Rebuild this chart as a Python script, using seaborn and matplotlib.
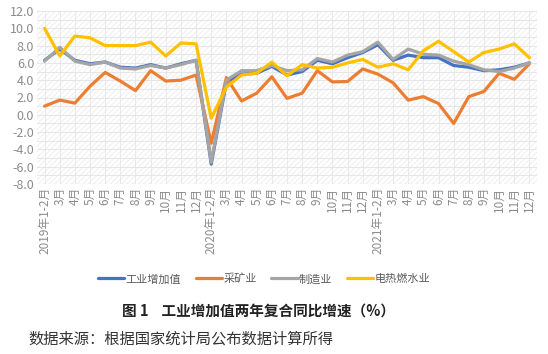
import matplotlib
matplotlib.use("Agg")
import matplotlib.pyplot as plt
from matplotlib.patches import Rectangle
import seaborn as sns
import pandas as pd

sns.set_theme(style="white")
plt.rcParams['font.family'] = ['Noto Sans CJK SC', 'DejaVu Sans']
plt.rcParams['hatch.linewidth'] = 0.6

months = ["1-2月", "3月", "4月", "5月", "6月", "7月", "8月", "9月", "10月", "11月", "12月"]
years = ["2019年", "2020年", "2021年"]
tick_labels = [(y + m) if m == "1-2月" else m for y in years for m in months]

industry = [6.3, 7.6, 6.3, 5.9, 6.1, 5.5, 5.4, 5.8, 5.4, 5.9, 6.3,
            -5.7, 3.8, 4.7, 4.8, 5.6, 4.6, 5.0, 6.3, 5.9, 6.6, 7.2,
            8.1, 6.3, 6.9, 6.6, 6.6, 5.7, 5.5, 5.1, 5.2, 5.5, 6.0]
mining = [1.0, 1.7, 1.35, 3.3, 4.9, 3.9, 2.8, 5.1, 3.9, 4.0, 4.6,
          -3.3, 4.3, 1.6, 2.5, 4.4, 1.9, 2.5, 5.1, 3.8, 3.85, 5.3,
          4.7, 3.7, 1.7, 2.1, 1.3, -1.0, 2.1, 2.7, 4.8, 4.1, 5.9]
manufacturing = [6.2, 7.8, 6.2, 5.8, 6.1, 5.4, 5.3, 5.7, 5.4, 5.8, 6.3,
                 -5.5, 4.0, 5.1, 5.1, 5.7, 5.1, 5.2, 6.5, 6.1, 6.9, 7.3,
                 8.4, 6.4, 7.6, 7.0, 6.9, 6.2, 5.8, 5.2, 5.0, 5.4, 6.0]
utilities = [10.0, 6.8, 9.1, 8.9, 8.0, 8.0, 8.0, 8.4, 6.8, 8.3, 8.2,
             -0.4, 3.2, 4.6, 4.8, 6.1, 4.5, 5.8, 5.4, 5.5, 6.0, 6.4,
             5.5, 5.9, 5.2, 7.4, 8.5, 7.3, 6.1, 7.2, 7.6, 8.2, 6.6]

series_names = ["工业增加值", "采矿业", "制造业", "电热燃水业"]
colors = ["#4472C4", "#ED7D31", "#A5A5A5", "#FFC000"]

idx = list(range(len(tick_labels)))
df = pd.concat([
    pd.DataFrame({"idx": idx, "value": vals, "series": name})
    for name, vals in zip(series_names, [industry, mining, manufacturing, utilities])
])

fig = plt.figure(figsize=(5.48, 3.54), dpi=100)
ax = fig.add_axes([37 / 548, 1 - 184 / 354, 500 / 548, 173 / 354])

# background grid + hatch
ax.add_patch(Rectangle((0, 0), 1, 1, transform=ax.transAxes, fill=False,
                       hatch='//////', edgecolor='#ececec', lw=0, zorder=0))
for yv in range(-8, 13, 1):
    ax.axhline(yv, color='#e3e3e3', lw=0.6, zorder=0.5)
for xv in idx:
    ax.axvline(xv, color='#e6e6e6', lw=0.6, zorder=0.5)

sns.lineplot(data=df, x="idx", y="value", hue="series", hue_order=series_names,
             palette=colors, linewidth=2.3, ax=ax, legend=False, zorder=3)

ax.set_xlim(-0.5, len(idx) - 0.5)
ax.set_ylim(-8, 12)
ax.set_yticks(range(-8, 13, 2))
ax.set_yticklabels([f"{v:.1f}" for v in range(-8, 13, 2)], fontsize=9, color='#8c8c8c')
ax.set_xticks(idx)
ax.set_xticklabels(tick_labels, rotation=90, fontsize=8.5, color='#8c8c8c')
ax.tick_params(axis='both', length=0, pad=2)
ax.set_xlabel("")
ax.set_ylabel("")
for s in ax.spines.values():
    s.set_visible(False)
ax.axhline(-8, color='#d0d0d0', lw=0.8, zorder=1)

handles = [plt.Line2D([0], [0], color=c, lw=2.3) for c in colors]
fig.legend(handles, series_names, loc='center', bbox_to_anchor=(264 / 548, 1 - 279 / 354),
           ncol=4, frameon=False, fontsize=8, handlelength=2.4, handletextpad=0.1,
           columnspacing=1.3, labelcolor='#595959')

fig.text(258 / 548, 1 - 311 / 354, "图 1    工业增加值两年复合同比增速（%）",
         ha='center', va='center', fontsize=10.5, fontweight='bold', color='#222222')
fig.text(28 / 548, 1 - 339 / 354, "数据来源：根据国家统计局公布数据计算所得",
         ha='left', va='center', fontsize=11, color='#333333')

fig.savefig("out.png", dpi=100)
